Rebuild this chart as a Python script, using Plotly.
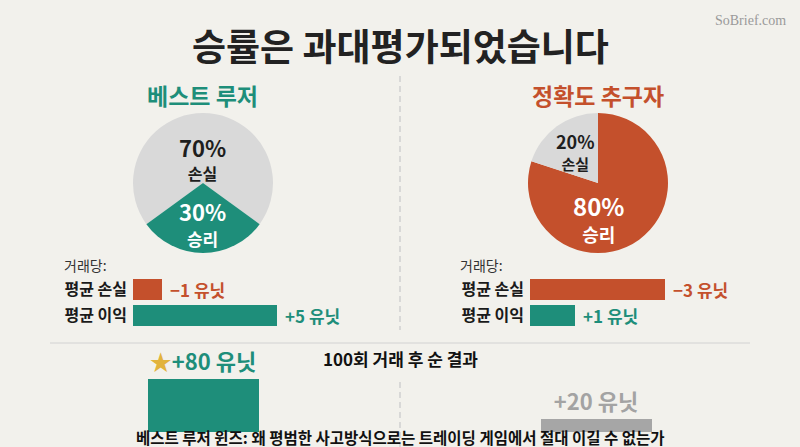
import plotly.graph_objects as go

W, H = 800, 447
BG = "#F2F1EC"
TEAL = "#1E8E7A"
ORANGE = "#C4502C"
LGRAY = "#D9D9D9"
DGRAY = "#A6A6A6"
FONT = "Noto Sans CJK KR"

# ---- data ----
title = "승률은 과대평가되었습니다"
groups = ["베스트 루저", "정확도 추구자"]
pie_labels = ["손실", "승리"]
loser_pie = [70, 30]      # 손실, 승리
seeker_pie = [20, 80]     # 손실, 승리
row_labels = ["평균 손실", "평균 이익"]
loser_units = [1, 5]      # avg loss, avg gain per trade
seeker_units = [3, 1]
unit_text_loser = ["−1 유닛", "+5 유닛"]
unit_text_seeker = ["−3 유닛", "+1 유닛"]
net_result = [80, 20]
net_text = ["<span style='color:#E2B33C'>★</span>+80 유닛", "+20 유닛"]
per_trade = "거래당:"
net_title = "100회 거래 후 순 결과"
footer = "베스트 루저 윈즈: 왜 평범한 사고방식으로는 트레이딩 게임에서 절대 이길 수 없는가"
brand = "SoBrief.com"

def px(x):
    return x / W

def py(y):
    return 1 - y / H

fig = go.Figure()

# ---- pies ----
fig.add_trace(go.Pie(
    values=loser_pie, labels=pie_labels, sort=False, direction="clockwise",
    rotation=-126, marker=dict(colors=[LGRAY, TEAL]), textinfo="none",
    hoverinfo="skip", showlegend=False,
    domain=dict(x=[px(133), px(273)], y=[py(253), py(113)])))
fig.add_trace(go.Pie(
    values=[seeker_pie[1], seeker_pie[0]], labels=[pie_labels[1], pie_labels[0]],
    sort=False, direction="clockwise", rotation=0,
    marker=dict(colors=[ORANGE, LGRAY]), textinfo="none",
    hoverinfo="skip", showlegend=False,
    domain=dict(x=[px(528), px(668)], y=[py(253), py(113)])))

# ---- per-trade bars ----
bar_colors = [ORANGE, TEAL]
fig.add_trace(go.Bar(
    x=loser_units, y=row_labels, orientation="h", xaxis="x", yaxis="y",
    marker=dict(color=bar_colors, line=dict(width=0)), width=0.84,
    showlegend=False, hoverinfo="skip"))
fig.add_trace(go.Bar(
    x=seeker_units, y=row_labels, orientation="h", xaxis="x2", yaxis="y2",
    marker=dict(color=bar_colors, line=dict(width=0)), width=0.84,
    showlegend=False, hoverinfo="skip"))

for xr, yr, vals, texts in [("x", "y", loser_units, unit_text_loser),
                            ("x2", "y2", seeker_units, unit_text_seeker)]:
    for v, lab, t, c in zip(vals, row_labels, texts, bar_colors):
        fig.add_annotation(x=v, y=lab, xref=xr, yref=yr, text=t, showarrow=False,
                           xanchor="left", yanchor="middle", xshift=6,
                           font=dict(family=FONT, size=17, color=c, weight="bold"))

# ---- net result bars ----
fig.add_trace(go.Bar(
    x=groups, y=net_result, xaxis="x3", yaxis="y3",
    marker=dict(color=[TEAL, DGRAY], line=dict(width=0)), width=0.28,
    text=net_text, textposition="outside", constraintext="none",
    textfont=dict(family=FONT, size=22, color=[TEAL, "#A3A3A3"], weight="bold"),
    cliponaxis=False, showlegend=False, hoverinfo="skip"))

row_axis = dict(type="category", categoryorder="array", categoryarray=row_labels[::-1],
                showgrid=False, zeroline=False, showline=False, ticks="",
                tickfont=dict(family=FONT, size=16, color="#1A1A1A", weight="bold"),
                ticklabelstandoff=5, fixedrange=True)
hidden = dict(visible=False, showgrid=False, zeroline=False, fixedrange=True)

fig.update_layout(
    width=W, height=H, margin=dict(l=0, r=0, t=0, b=0),
    paper_bgcolor=BG, plot_bgcolor="rgba(0,0,0,0)",
    font=dict(family=FONT),
    bargap=0,
    xaxis=dict(hidden, domain=[px(133), px(277)], range=[0, 5], anchor="y"),
    yaxis=dict(row_axis, domain=[py(330), py(275)], anchor="x"),
    xaxis2=dict(hidden, domain=[px(530), px(665)], range=[0, 3], anchor="y2"),
    yaxis2=dict(row_axis, domain=[py(330), py(275)], anchor="x2"),
    xaxis3=dict(hidden, type="category", domain=[px(6.5), px(792.5)], range=[-0.5, 1.5], anchor="y3"),
    yaxis3=dict(hidden, domain=[py(432), py(379)], range=[0, 80], anchor="x3"),
)

# ---- lines ----
fig.add_shape(type="line", xref="paper", yref="paper", x0=px(400), x1=px(400),
              y0=py(76), y1=py(330), line=dict(color="#CFCFCF", width=1.5, dash="6px,4px"))
fig.add_shape(type="line", xref="paper", yref="paper", x0=px(400), x1=px(400),
              y0=py(382), y1=py(447), line=dict(color="#CFCFCF", width=1.5, dash="6px,4px"))
fig.add_shape(type="line", xref="paper", yref="paper", x0=px(50), x1=px(750),
              y0=py(343), y1=py(343), line=dict(color="#D2D2D2", width=1))

def ann(x, y, text, size, color="#1A1A1A", bold=True, xanchor="center", family=FONT):
    fig.add_annotation(x=px(x), y=py(y), xref="paper", yref="paper", text=text,
                       showarrow=False, xanchor=xanchor, yanchor="middle",
                       font=dict(family=family, size=size, color=color,
                                 weight="bold" if bold else "normal"))

def pie_ann(x, y, pct, label, base, big, small, color):
    txt = (f"<span style='font-size:{big}px'>{pct}%</span><br>"
           f"<span style='font-size:{small}px'>{label}</span>")
    ann(x, y, txt, base, color)

ann(400, 45, title, 37, "#222222")
ann(788, 20, brand, 14, "#9A9A9A", bold=False, xanchor="right", family="Liberation Serif")
ann(203, 95, groups[0], 23, TEAL)
ann(598, 95, groups[1], 23, ORANGE)

# pie labels
pie_ann(203, 158, loser_pie[0], pie_labels[0], 18, 22, 16, "#1E1E1E")
pie_ann(203, 223, loser_pie[1], pie_labels[1], 19, 22, 17, "white")
pie_ann(575, 151, seeker_pie[0], pie_labels[0], 16, 18, 15, "#1E1E1E")
pie_ann(598, 217, seeker_pie[1], pie_labels[1], 20, 24, 18, "white")

ann(62, 265, per_trade, 14, "#333333", bold=False, xanchor="left")
ann(458, 265, per_trade, 14, "#333333", bold=False, xanchor="left")

ann(400, 358, net_title, 17, "#111111")
ann(400, 437, footer, 15.5, "#111111")

fig.write_html("out.html")
